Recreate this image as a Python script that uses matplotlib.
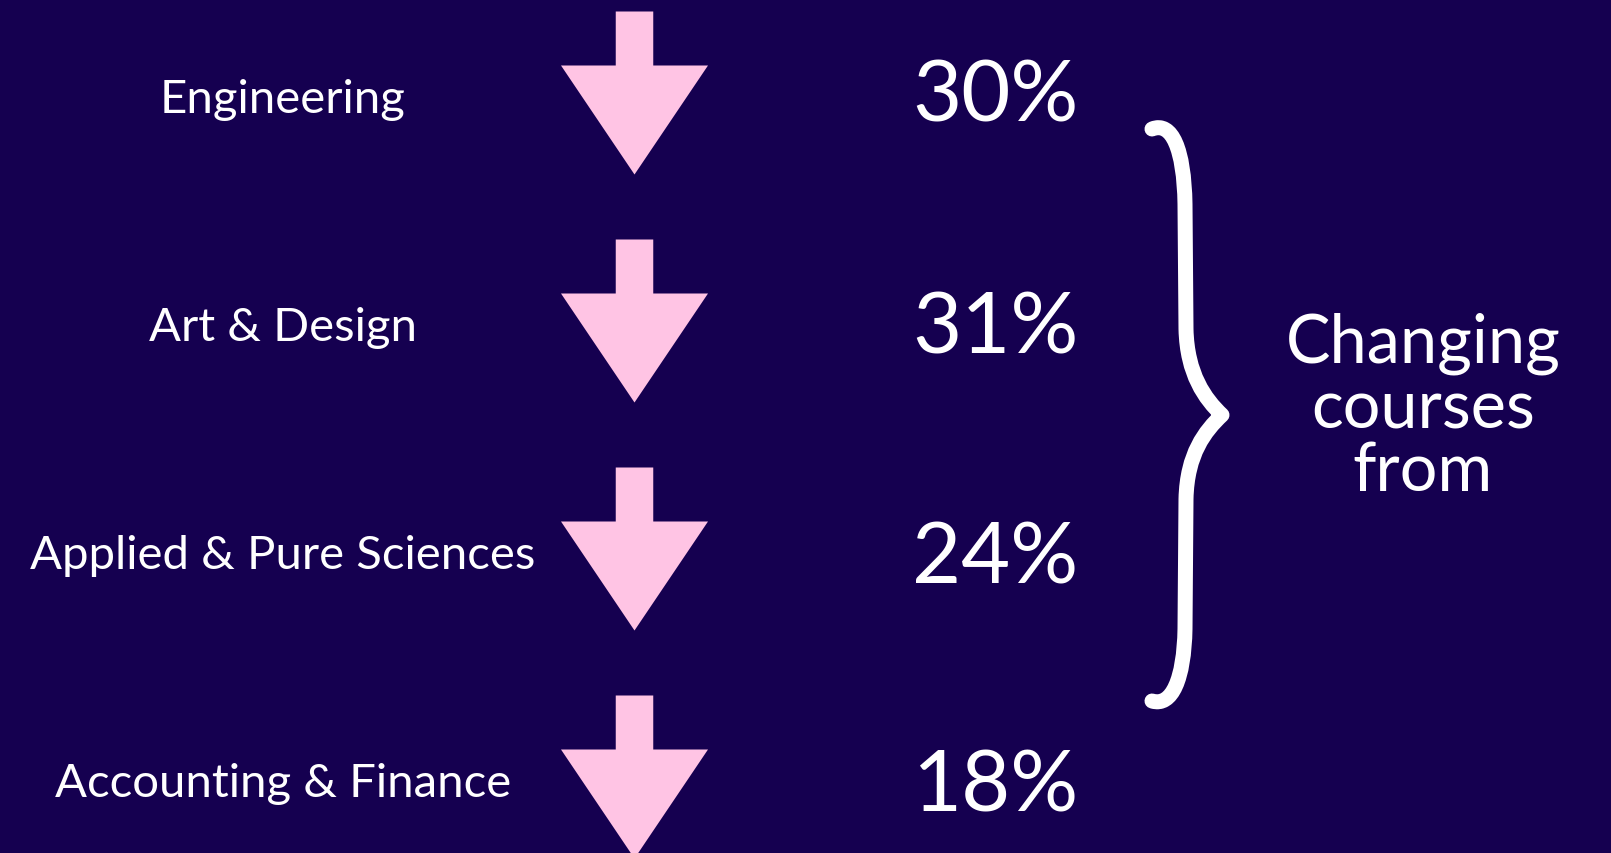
import matplotlib.pyplot as plt
from matplotlib.patches import Polygon, PathPatch
from matplotlib.path import Path

# data
subjects = ["Engineering", "Art & Design", "Applied & Pure Sciences", "Accounting & Finance"]
shares = [30, 31, 24, 18]
side_lines = ["Changing", "courses", "from"]

bg = "#150050"
pink = "#FFC4E4"
font = "Lato"

W, H = 1611, 854
fig = plt.figure(figsize=(W / 100, H / 100), dpi=100, facecolor=bg)
ax = fig.add_axes([0, 0, 1, 1])
ax.set_xlim(0, W)
ax.set_ylim(H, 0)
ax.axis("off")
ax.set_facecolor(bg)

# layout (pixel coords)
row_gap = 228
arrow_top0 = 12.5
arrow_x = 634.5
stem_w, stem_h = 37.5, 54
head_w, head_h = 147, 109
label_x, label_base0 = 283, 113
pct_x = 995
pct_base = [122, 354, 584, 812]

for i, (name, val) in enumerate(zip(subjects, shares)):
    top = arrow_top0 + i * row_gap
    hb = top + stem_h
    pts = [
        (arrow_x - stem_w / 2, top), (arrow_x + stem_w / 2, top),
        (arrow_x + stem_w / 2, hb), (arrow_x + head_w / 2, hb),
        (arrow_x, hb + head_h), (arrow_x - head_w / 2, hb),
        (arrow_x - stem_w / 2, hb),
    ]
    ax.add_patch(Polygon(pts, closed=True, facecolor=pink, edgecolor="none"))
    ax.text(label_x, label_base0 + i * row_gap, name, color="white", fontsize=34,
            family=font, ha="center", va="baseline")
    ax.text(pct_x, pct_base[i], f"{val}%", color="white", fontsize=61,
            family=font, fontweight="normal", ha="center", va="baseline")

# curly brace
verts = [
    (1152, 130), (1172, 122), (1184, 150), (1185, 205),
    (1186, 330),
    (1187, 375), (1205, 400), (1222, 416),
    (1205, 432), (1187, 455), (1186, 500),
    (1185, 630),
    (1184, 680), (1172, 708), (1152, 702),
]
codes = [Path.MOVETO, Path.CURVE4, Path.CURVE4, Path.CURVE4,
         Path.LINETO,
         Path.CURVE4, Path.CURVE4, Path.CURVE4,
         Path.CURVE4, Path.CURVE4, Path.CURVE4,
         Path.LINETO,
         Path.CURVE4, Path.CURVE4, Path.CURVE4]
ax.add_patch(PathPatch(Path(verts, codes), facecolor="none", edgecolor="white",
                       lw=10.8, capstyle="round", joinstyle="round"))

side_base = [363, 429, 491]
for line, yb in zip(side_lines, side_base):
    ax.text(1423, yb, line, color="white", fontsize=48, family=font,
            ha="center", va="baseline")

fig.savefig("out.png", dpi=100, facecolor=bg)
